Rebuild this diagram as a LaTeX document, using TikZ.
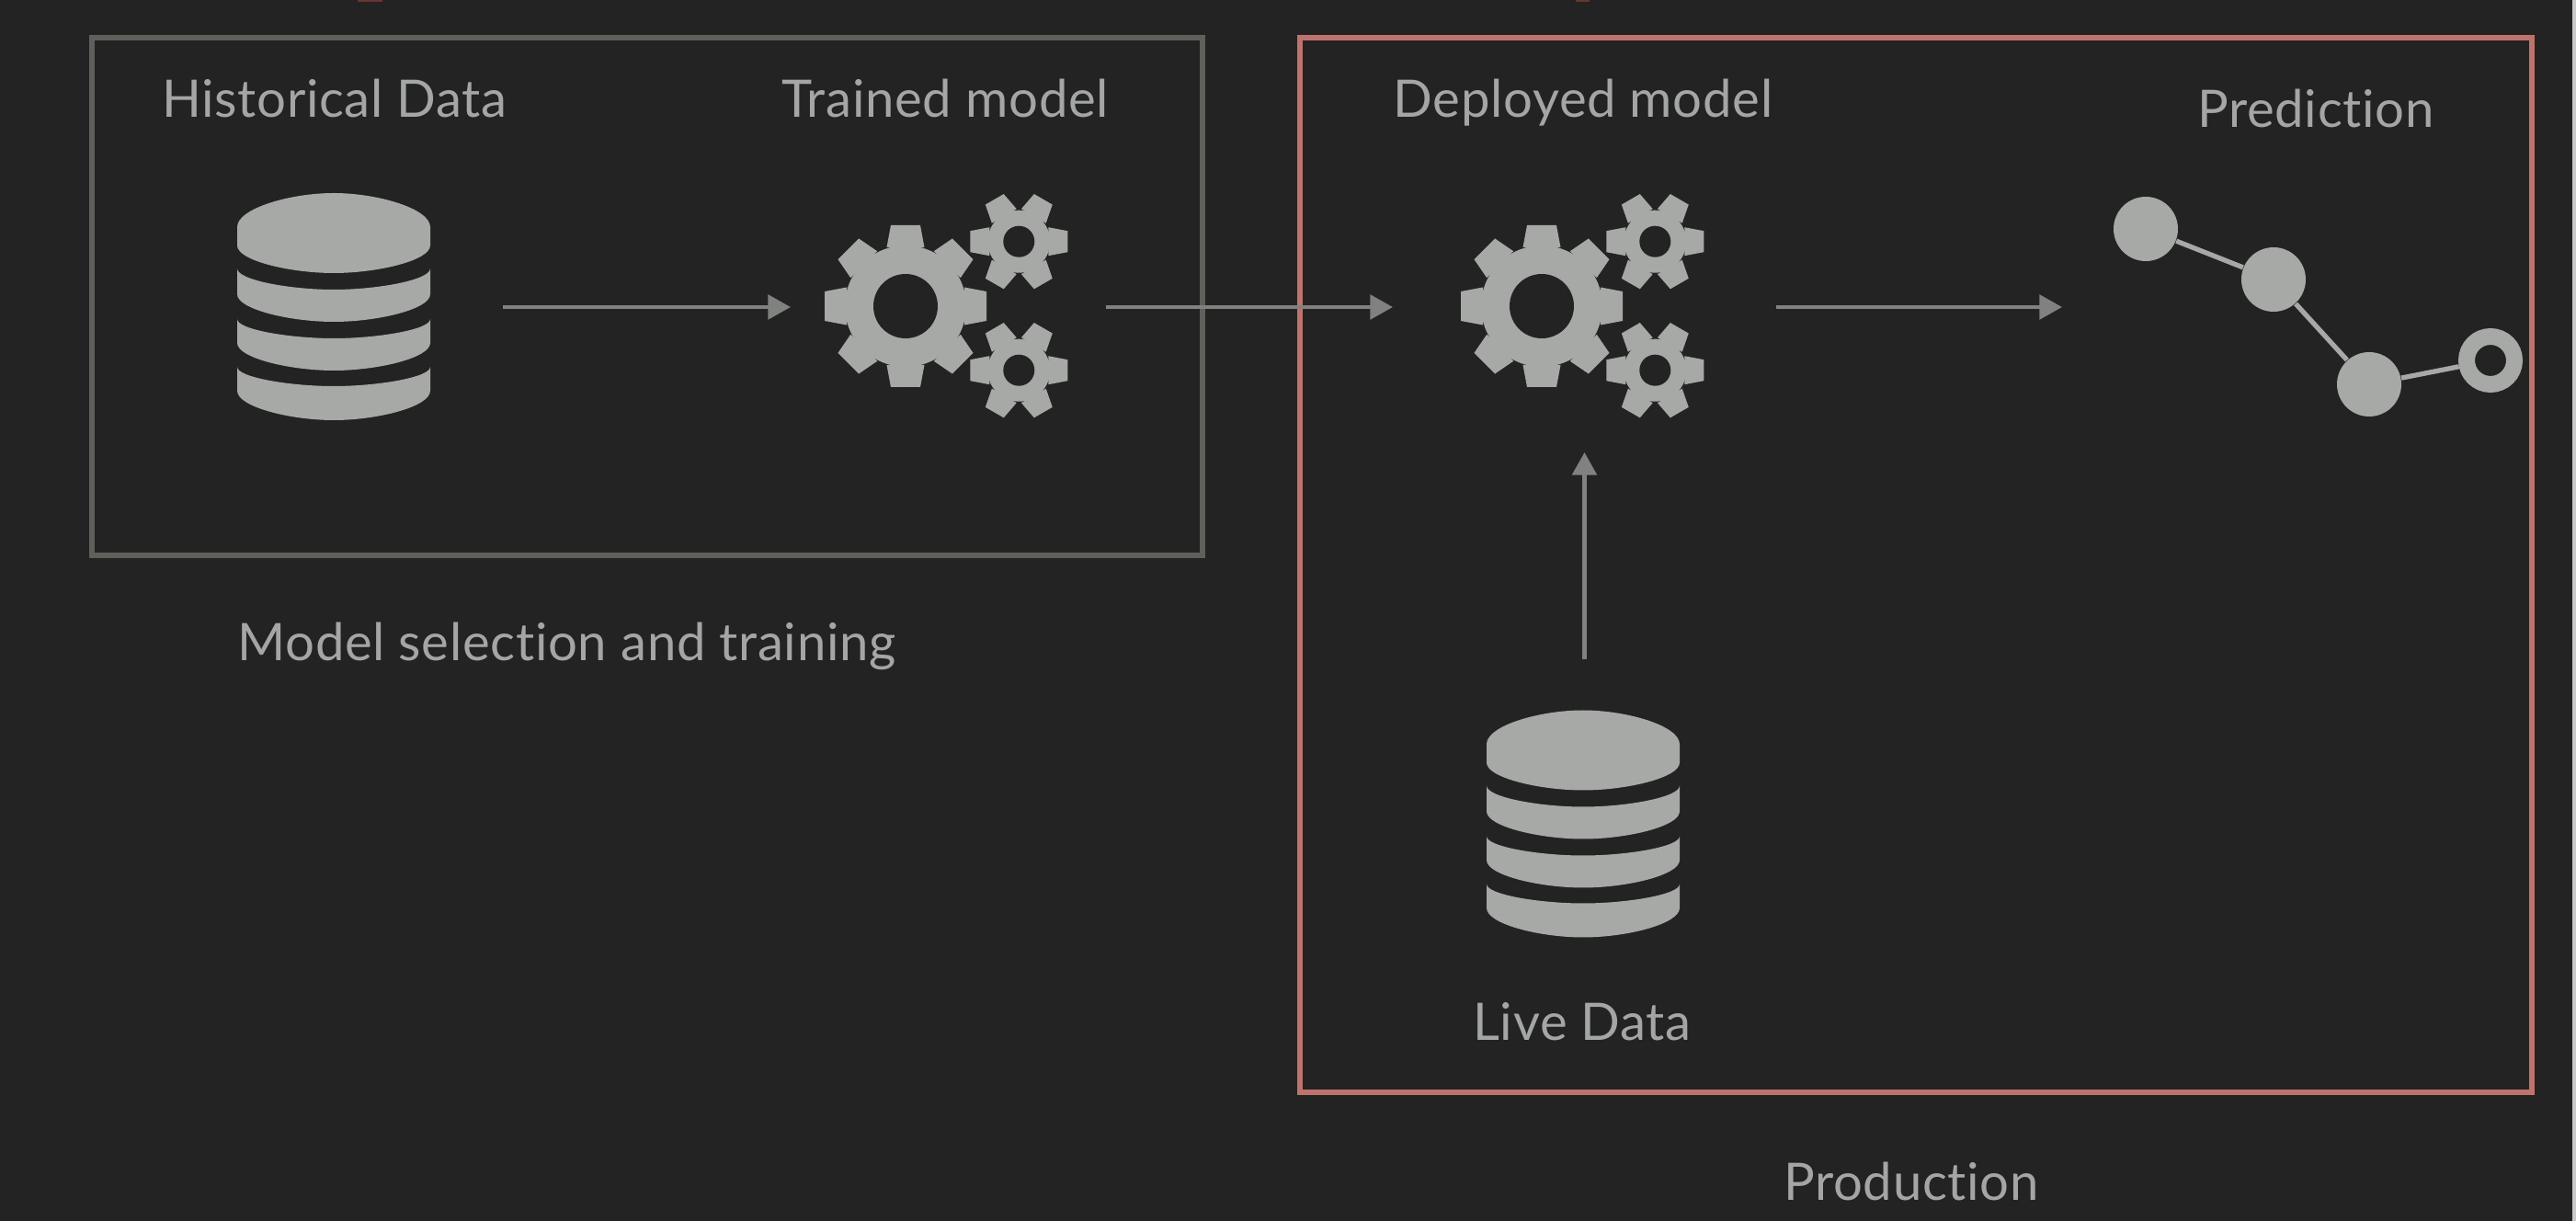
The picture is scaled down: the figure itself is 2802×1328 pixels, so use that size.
\documentclass[tikz,border=0pt]{standalone}
\usepackage{fontspec}
\setmainfont{Lato}[RawFeature=-liga,LetterSpace=1.2]
\usetikzlibrary{arrows.meta}
\definecolor{bgc}{HTML}{232323}
\definecolor{iconc}{HTML}{A7A9A7}
\definecolor{textc}{HTML}{A3A6A4}
\definecolor{arrowc}{HTML}{808280}
\definecolor{greybox}{HTML}{5F5F5B}
\definecolor{redbox}{HTML}{BE746C}
\definecolor{clipred}{HTML}{6A3430}
\definecolor{edgec}{HTML}{C8C8C8}
\def\px{0.01cm}
\newcommand\dbband[4]{% top of side, middle of upper edge, bottom of side, middle of lower edge
  \pgfmathsetmacro\ca{#1+0.55*(#2-#1)}
  \pgfmathsetmacro\cb{#3+0.55*(#4-#3)}
  \fill[iconc] (-105,#1) .. controls (-105,\ca) and (-47,#2) .. (0,#2)
     .. controls (47,#2) and (105,\ca) .. (105,#1) -- (105,#3)
     .. controls (105,\cb) and (47,#4) .. (0,#4)
     .. controls (-47,#4) and (-105,\cb) .. (-105,#3) -- cycle;}
\newcommand\gearshape[7]{% teeth, first angle, root r, tip r, root half, tip half, hole r
  \fill[iconc] (0,0) circle[radius=#3];
  \foreach \k in {1,...,#1}{
    \fill[iconc,rotate=#2+\k*360/#1] (#3-2,-#5) -- (#4,-#6) -- (#4,#6) -- (#3-2,#5) -- cycle;}
  \fill[bgc] (0,0) circle[radius=#7];}
\tikzset{
  x=0.01cm,y=-0.01cm,
  label text/.style={text=textc,anchor=base,inner sep=0pt,font=\fontsize{16}{19}\selectfont},
  zone/.style={draw=#1,line width=1.5pt,fill=none,rectangle,inner sep=0pt},
  flow/.style={draw=arrowc,line width=1.25pt,-{Triangle[length=7pt,width=7.5pt]}},
  holder/.style={inner sep=0pt,outer sep=0pt,rectangle},
  dot/.style={circle,fill=iconc,inner sep=0pt,minimum size=70*\px},
  ring/.style={circle,draw=iconc,fill=bgc,line width=18*\px,inner sep=0pt,minimum size=52*\px},
  trend/.style={draw=iconc,line width=1.5pt},
  dbicon/.pic={
    \dbband{-87}{-124}{-67}{-37}
    \dbband{-42}{-19}{-14}{16}
    \dbband{13}{34}{39}{69}
    \dbband{65}{86}{91}{123}
  },
  gearicon/.pic={
    \gearshape{8}{0}{66}{88}{20.5}{16}{35}
    \begin{scope}[shift={(123.3,-70.3)}]\gearshape{6}{0}{34}{53}{15.5}{11.5}{17}\end{scope}
    \begin{scope}[shift={(123.3,69.7)}]\gearshape{6}{0}{34}{53}{15.5}{11.5}{17}\end{scope}
  }
}
\begin{document}
\begin{tikzpicture}
\fill[bgc] (0,0) rectangle (2802,1328);
\useasboundingbox (0,0) rectangle (2802,1328);
% screenshot edge and clipped marks
\fill[edgec] (2798,0) rectangle (2802,1328);
\fill[clipred] (389,0) rectangle (416,2);
\fill[clipred] (1714,0) rectangle (1729,2);
% zones
\node[zone=greybox,minimum width=1208*\px,minimum height=563*\px] (train) at (704,322.5) {};
\node[zone=redbox,minimum width=1340*\px,minimum height=1147*\px] (prod) at (2084,614.5) {};
% icon holders: their edges are the connector ends
\node[holder,minimum width=368*\px,minimum height=250*\px] (hist) at (363,334) {};
\node[holder,minimum width=343*\px,minimum height=250*\px] (trained) at (1031.5,334) {};
\node[holder,minimum width=417*\px,minimum height=316*\px] (deployed) at (1723.5,334) {};
\node[holder,minimum width=250*\px,minimum height=358*\px] (live) at (1723.5,896) {};
\node[holder,minimum width=10*\px,minimum height=10*\px] (predin) at (2248,334) {};
\pic at (363,334) {dbicon};
\pic at (1722,896.5) {dbicon};
\pic at (985,333) {gearicon};
\pic at (1677,333) {gearicon};
% connectors
\draw[flow] (hist.east) -- (trained.west);
\draw[flow] (trained.east) -- (deployed.west);
\draw[flow] (deployed.east) -- (predin.west);
\draw[flow] (live.north) -- (deployed.south);
% prediction chain
\node[dot] (p1) at (2334,249) {};
\node[dot] (p2) at (2473,304) {};
\node[dot] (p3) at (2577,418) {};
\node[ring] (p4) at (2709,392) {};
\draw[trend] (p1) -- (p2);
\draw[trend] (p2) -- (p3);
\draw[trend] (p3) -- (p4);
% labels
\node[label text] (t1) at (364,127.5) {Historical Data};
\node[label text] (t2) at (1028,127.5) {Trained model};
\node[label text] (t3) at (1722,127.5) {Deployed model};
\node[label text] (t4) at (2519,138.5) {Prediction};
\node[label text] (t5) at (616.5,719) {Model selection and training};
\node[label text] (t6) at (1721,1131) {Live Data};
\node[label text] (t7) at (2079,1305) {Production};
\end{tikzpicture}
\end{document}
